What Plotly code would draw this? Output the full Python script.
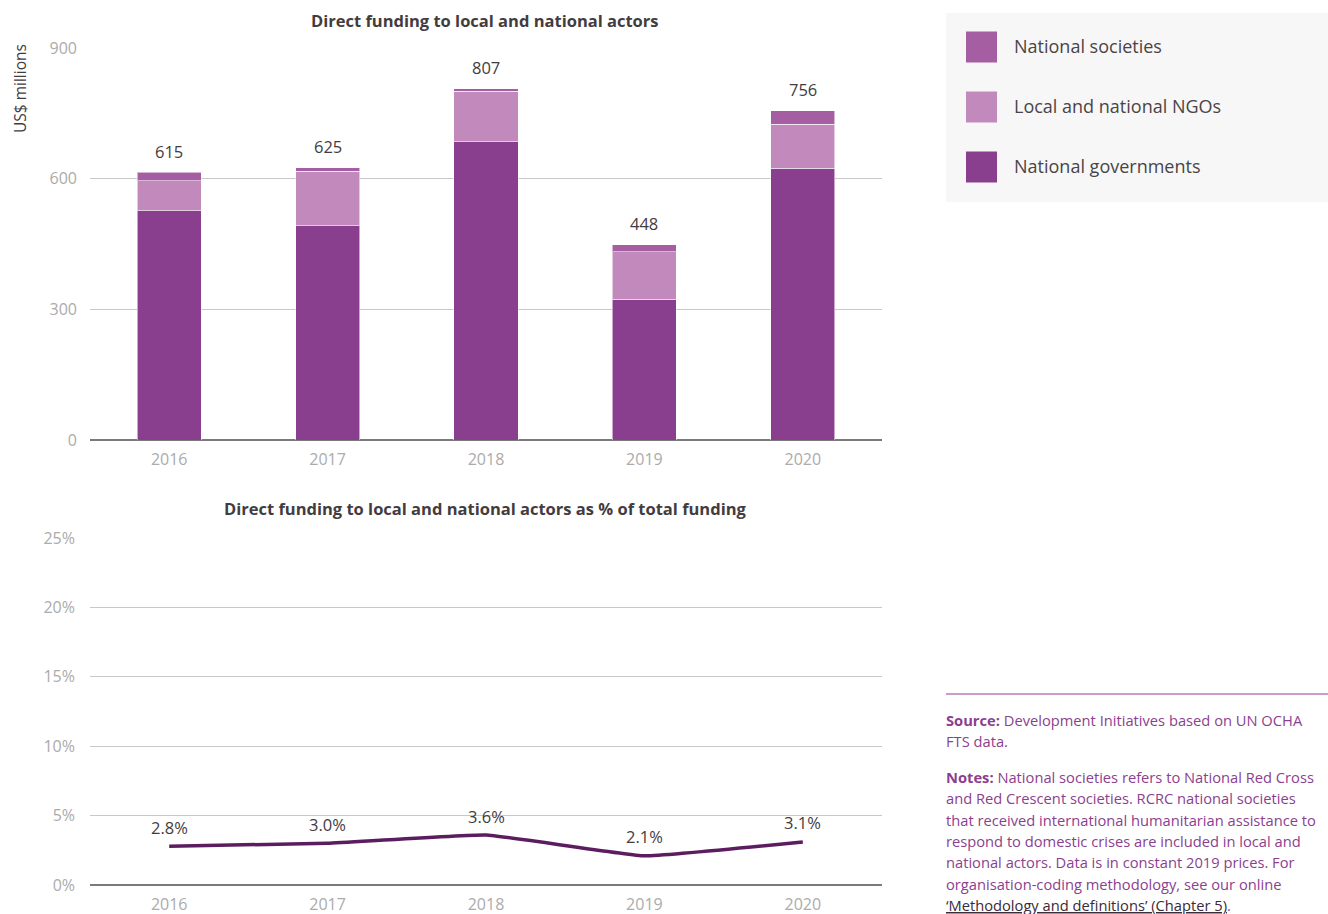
import plotly.graph_objects as go

years = ["2016", "2017", "2018", "2019", "2020"]
national_governments = [526, 492, 685, 323, 624]
local_national_ngos = [69, 125, 116, 109, 101]
national_societies = [20, 8, 6, 16, 31]
totals = [615, 625, 807, 448, 756]
pct_of_total = [2.8, 3.0, 3.6, 2.1, 3.1]
pct_labels = ["2.8%", "3.0%", "3.6%", "2.1%", "3.1%"]
bar_ticks = [0, 300, 600, 900]
pct_ticks = [0, 5, 10, 15, 20, 25]
pct_tick_labels = ["0%", "5%", "10%", "15%", "20%", "25%"]

W, H = 1328, 914
FONT = "'Open Sans', Lato, sans-serif"
C_GOV = "#893f8d"
C_NGO = "#c28abc"
C_NS = "#a45ea1"
C_LINE = "#5b1d5f"
TXT = "#433c3f"
TICK = "#ababab"
GRID = "#c8c8c8"
NOTE = "#8b3f8f"

def px_x(x):
    return x / W

def px_y(y):
    return 1 - y / H

fig = go.Figure()
seg_line = dict(color="rgba(255,255,255,0.55)", width=1)
fig.add_trace(go.Bar(x=years, y=national_governments, name="National governments",
                     marker=dict(color=C_GOV, line=seg_line), xaxis="x", yaxis="y"))
fig.add_trace(go.Bar(x=years, y=local_national_ngos, name="Local and national NGOs",
                     marker=dict(color=C_NGO, line=seg_line), xaxis="x", yaxis="y"))
fig.add_trace(go.Bar(x=years, y=national_societies, name="National societies",
                     marker=dict(color=C_NS, line=seg_line), xaxis="x", yaxis="y"))

fig.add_trace(go.Scatter(x=years, y=pct_of_total, mode="lines",
                         line=dict(color=C_LINE, width=3.5, shape="spline", smoothing=0.3),
                         xaxis="x2", yaxis="y2", cliponaxis=False))

axis_common = dict(showline=False, ticks="", tickfont=dict(size=16, color=TICK, family=FONT),
                   automargin=False, fixedrange=True)

fig.update_layout(
    width=W, height=H, template="none",
    margin=dict(l=0, r=0, t=0, b=0),
    paper_bgcolor="white", plot_bgcolor="white",
    barmode="stack", bargap=0.595, showlegend=False,
    font=dict(family=FONT, color=TXT),
    xaxis=dict(domain=[px_x(90), px_x(882)], anchor="y", type="category",
               range=[-0.5, 4.5], showgrid=False, ticklabelstandoff=8, **axis_common),
    yaxis=dict(domain=[px_y(440), px_y(48)], anchor="x", range=[0, 900],
               tickvals=bar_ticks, showgrid=True, gridcolor=GRID, gridwidth=1,
               zeroline=True, zerolinecolor="#7a7a7a", zerolinewidth=1.5,
               ticklabelstandoff=12, **axis_common),
    xaxis2=dict(domain=[px_x(90), px_x(882)], anchor="y2", type="category",
                range=[-0.5, 4.5], showgrid=False, ticklabelstandoff=8, **axis_common),
    yaxis2=dict(domain=[px_y(885), px_y(538)], anchor="x2", range=[0, 25],
                tickvals=pct_ticks, ticktext=pct_tick_labels, showgrid=True,
                gridcolor=GRID, gridwidth=1, zeroline=True, zerolinecolor="#7a7a7a",
                zerolinewidth=1.5, ticklabelstandoff=14, **axis_common),
)

annotations = [
    dict(text="<b>Direct funding to local and national actors</b>", x=px_x(485), y=px_y(20),
         xref="paper", yref="paper", showarrow=False, font=dict(size=16.5, color=TXT, family=FONT),
         xanchor="center", yanchor="middle"),
    dict(text="<b>Direct funding to local and national actors as % of total funding</b>",
         x=px_x(485), y=px_y(508), xref="paper", yref="paper", showarrow=False,
         font=dict(size=16.5, color=TXT, family=FONT), xanchor="center", yanchor="middle"),
    dict(text="US$ millions", x=px_x(20), y=px_y(89), xref="paper", yref="paper",
         showarrow=False, textangle=-90, font=dict(size=15.5, color=TXT, family=FONT),
         xanchor="center", yanchor="middle"),
]

for i, tot in enumerate(totals):
    annotations.append(dict(text=str(tot), x=i, y=tot, xref="x", yref="y", showarrow=False,
                            yshift=21, yanchor="middle", xanchor="center",
                            font=dict(size=16.5, color=TXT, family=FONT)))
for i, (v, lab) in enumerate(zip(pct_of_total, pct_labels)):
    annotations.append(dict(text=lab, x=i, y=v, xref="x2", yref="y2", showarrow=False,
                            yshift=19, yanchor="middle", xanchor="center",
                            font=dict(size=16.5, color=TXT, family=FONT)))

shapes = [
    dict(type="rect", xref="paper", yref="paper", x0=px_x(946), x1=1, y0=px_y(202), y1=px_y(13),
         fillcolor="#f7f7f7", line=dict(width=0), layer="below"),
    dict(type="line", xref="paper", yref="paper", x0=px_x(946), x1=1, y0=px_y(694), y1=px_y(694),
         line=dict(color="#c99cc9", width=2)),
]

legend_items = [("National societies", C_NS, 47), ("Local and national NGOs", C_NGO, 107),
                ("National governments", C_GOV, 167)]
for label, color, cy in legend_items:
    shapes.append(dict(type="rect", xref="paper", yref="paper", x0=px_x(966), x1=px_x(997),
                       y0=px_y(cy + 15.5), y1=px_y(cy - 15.5), fillcolor=color, line=dict(width=0)))
    annotations.append(dict(text=label, x=px_x(1012), y=px_y(cy - 1), xref="paper", yref="paper",
                            showarrow=False, xanchor="left", yanchor="middle",
                            font=dict(size=18, color="#4a4446", family=FONT)))

source_lines = ["<b>Source:</b> Development Initiatives based on UN OCHA", "FTS data."]
notes_lines = ["<b>Notes:</b> National societies refers to National Red Cross",
               "and Red Crescent societies. RCRC national societies",
               "that received international humanitarian assistance to",
               "respond to domestic crises are included in local and",
               "national actors. Data is in constant 2019 prices. For",
               "organisation-coding methodology, see our online",
               "<span style='color:#3a2a3a;text-decoration:underline'>‘Methodology and definitions’ (Chapter 5)</span>."]
for j, line in enumerate(source_lines):
    annotations.append(dict(text=line, x=px_x(944), y=px_y(720 + 21.3 * j), xref="paper", yref="paper",
                            showarrow=False, xanchor="left", yanchor="middle", align="left",
                            font=dict(size=14.7, color=NOTE, family=FONT)))
for j, line in enumerate(notes_lines):
    annotations.append(dict(text=line, x=px_x(944), y=px_y(777 + 21.3 * j), xref="paper", yref="paper",
                            showarrow=False, xanchor="left", yanchor="middle", align="left",
                            font=dict(size=14.7, color=NOTE, family=FONT)))

fig.update_layout(annotations=annotations, shapes=shapes)
fig.write_html("out.html", config={"displayModeBar": False},
               post_script="document.body.style.margin='0px';document.body.style.overflow='hidden';")
